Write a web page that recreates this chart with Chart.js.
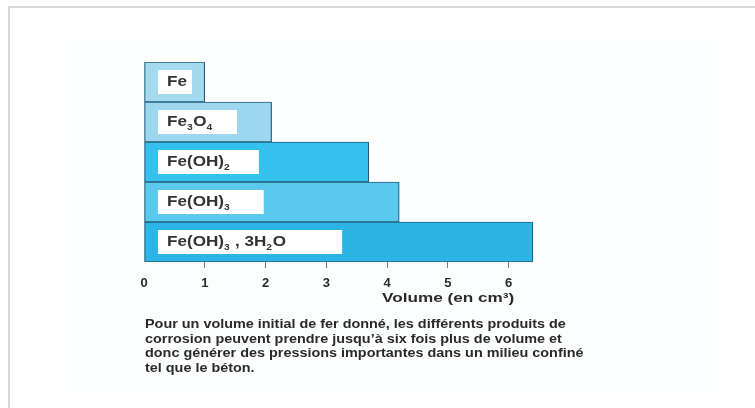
<!DOCTYPE html>
<html>
<head>
<meta charset="utf-8">
<script src="https://cdn.jsdelivr.net/npm/chart.js@4.4.1/dist/chart.umd.min.js"></script>
<style>
  html, body { margin: 0; padding: 0; background: #fff; overflow: hidden; }
  body { width: 755px; height: 408px; position: relative; font-family: "Liberation Sans", Arial, sans-serif; }
  .frame { position: absolute; left: 8px; top: 6px; width: 900px; height: 600px;
           border-top: 2px solid #d9d9d9; border-left: 2px solid #d9d9d9; }
  .panel { position: absolute; left: 70px; top: 36px; width: 645px; height: 360px; background: #fdfefe; }
  #chart { position: absolute; left: 0; top: 0; }
  .txt { position: absolute; color: #2a2a2a; font-weight: bold; white-space: nowrap;
         transform-origin: 0 0; }
  .axis-title { left: 382px; top: 290px; font-size: 13px; transform: scaleX(1.32); }
  .caption { left: 145px; top: 317px; font-size: 12px; line-height: 14.5px; transform: scaleX(1.2); }
</style>
</head>
<body>
<div class="frame"></div>
<div class="panel"></div>
<canvas id="chart" width="755" height="408"></canvas>
<div class="txt axis-title">Volume (en cm³)</div>
<div class="txt caption">Pour un volume initial de fer donné, les différents produits de<br>corrosion peuvent prendre jusqu’à six fois plus de volume et<br>donc générer des pressions importantes dans un milieu confiné<br>tel que le béton.</div>
<script>
// data
const categories = ['Fe', 'Fe₃O₄', 'Fe(OH)₂', 'Fe(OH)₃', 'Fe(OH)₃ , 3H₂O'];
const volumes = [1, 2.1, 3.7, 4.2, 6.4];
const labelBoxes = [[0.23, 0.79], [0.23, 1.53], [0.23, 1.89], [0.23, 1.97], [0.23, 3.26]];
const xTicks = [0, 1, 2, 3, 4, 5, 6];

const barColors = ['#a6daf1', '#9dd6ef', '#35c1ed', '#5bc9ee', '#2cb4e7'];
const FONT = '"Liberation Sans", Arial, sans-serif';

// draws the product names inside the white boxes, subscripts lowered
const boxLabels = {
  id: 'boxLabels',
  afterDatasetsDraw(chart) {
    const ctx = chart.ctx;
    const meta = chart.getDatasetMeta(0);
    const x0 = chart.scales.x.getPixelForValue(labelBoxes[0][0]) + 9;
    ctx.save();
    ctx.fillStyle = '#333';
    ctx.textBaseline = 'middle';
    categories.forEach((label, i) => {
      const y = meta.data[i].y;
      ctx.save();
      ctx.translate(x0, y);
      ctx.scale(1.14, 1);
      let x = 0;
      for (const ch of label) {
        const code = ch.charCodeAt(0);
        if (code >= 0x2080 && code <= 0x2089) {
          ctx.font = 'bold 9px ' + FONT;
          const d = String(code - 0x2080);
          ctx.fillText(d, x, 6);
          x += ctx.measureText(d).width + 0.5;
        } else {
          ctx.font = 'bold 15px ' + FONT;
          ctx.fillText(ch, x, 0);
          x += ctx.measureText(ch).width;
        }
      }
      ctx.restore();
    });
    ctx.restore();
  }
};

new Chart(document.getElementById('chart'), {
  type: 'bar',
  data: {
    labels: categories,
    datasets: [
      {
        label: 'boxes',
        data: labelBoxes,
        backgroundColor: '#ffffff',
        borderWidth: 0,
        barPercentage: 0.6,
        categoryPercentage: 1,
        grouped: false,
        order: 0
      },
      {
        label: 'Volume',
        data: volumes,
        backgroundColor: barColors,
        borderColor: '#245e79',
        borderWidth: 1.2,
        borderSkipped: false,
        barPercentage: 1,
        categoryPercentage: 1,
        grouped: false,
        order: 1
      }
    ]
  },
  options: {
    indexAxis: 'y',
    responsive: false,
    animation: false,
    layout: { padding: { left: 144, right: 216, top: 62, bottom: 116 } },
    plugins: { legend: { display: false }, tooltip: { enabled: false } },
    scales: {
      x: {
        type: 'linear',
        min: 0,
        max: 6.5,
        afterBuildTicks: s => { s.ticks = xTicks.map(v => ({ value: v })); },
        afterFit: s => { s.height = 30; },
        ticks: {
          color: '#2b2b2b',
          padding: 8,
          font: { family: FONT, size: 13, weight: 'bold' }
        },
        grid: {
          drawOnChartArea: false,
          tickLength: 6,
          color: c => (c.tick && c.tick.value === 0) ? 'rgba(0,0,0,0)' : '#7a7a7a'
        },
        border: { display: false }
      },
      y: { display: false }
    }
  },
  plugins: [boxLabels]
});
</script>
</body>
</html>
